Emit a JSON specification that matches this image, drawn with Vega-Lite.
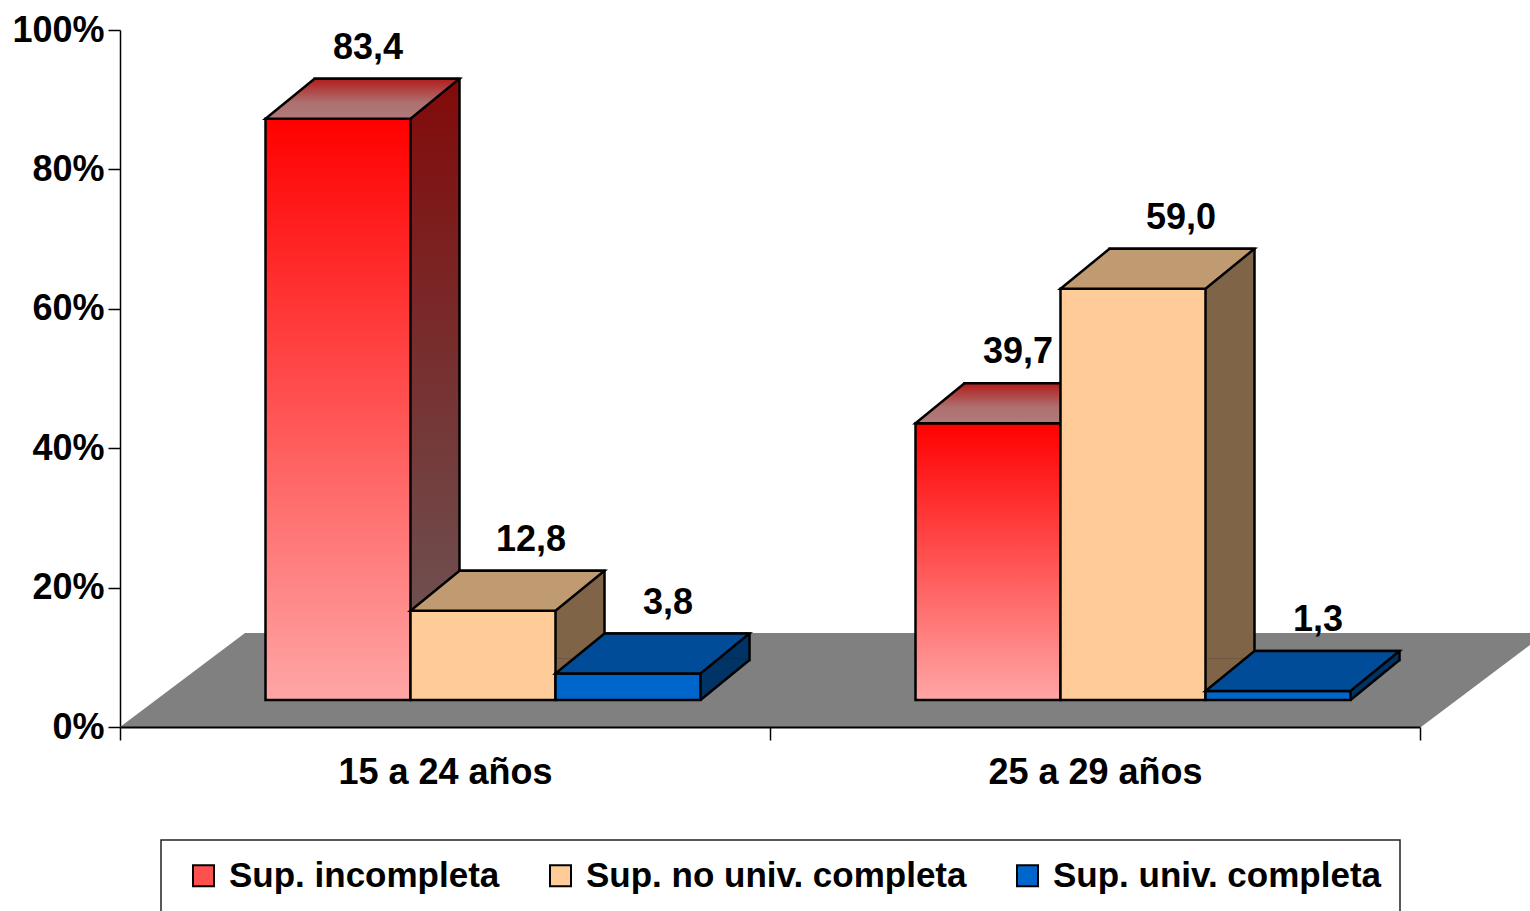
{
  "$schema": "https://vega.github.io/schema/vega-lite/v6.json",
  "width": 1300,
  "height": 697,
  "autosize": {"type": "none"},
  "padding": {"left": 120, "top": 30, "right": 110, "bottom": 184},
  "background": "white",
  "config": {
    "view": {"stroke": null},
    "font": "Liberation Sans",
    "locale": {"number": {"decimal": ",", "thousands": ".", "grouping": [3], "currency": ["", " €"]}}
  },
  "data": {
    "values": [
      {"g": "15 a 24 años", "s": "Sup. incompleta", "v": 83.4},
      {"g": "15 a 24 años", "s": "Sup. no univ. completa", "v": 12.8},
      {"g": "15 a 24 años", "s": "Sup. univ. completa", "v": 3.8},
      {"g": "25 a 29 años", "s": "Sup. incompleta", "v": 39.7},
      {"g": "25 a 29 años", "s": "Sup. no univ. completa", "v": 59.0},
      {"g": "25 a 29 años", "s": "Sup. univ. completa", "v": 1.3}
    ]
  },
  "encoding": {
    "x": {
      "field": "g", "type": "nominal", "sort": null,
      "scale": {"paddingInner": 0, "paddingOuter": 0},
      "axis": {"title": null, "tickBand": "extent", "tickSize": 13, "tickWidth": 1.5, "tickColor": "black", "domainColor": "black", "domainWidth": 2, "labelFontSize": 36, "labelFontWeight": "bold", "labelColor": "black", "labelAngle": 0, "labelBaseline": "alphabetic", "labelPadding": 43, "labelLimit": 500, "zindex": 1}
    },
    "y": {
      "field": "v", "type": "quantitative",
      "scale": {"domain": [0, 100]},
      "axis": {"title": null, "values": [0, 20, 40, 60, 80, 100], "labelExpr": "datum.value + '%'", "grid": false, "tickSize": 12, "tickWidth": 1.5, "tickColor": "black", "domainColor": "black", "domainWidth": 1.5, "labelFontSize": 36, "labelFontWeight": "bold", "labelColor": "black", "labelPadding": 4}
    }
  },
  "resolve": {"scale": {"xOffset": "independent"}},
  "layer": [
    {
      "transform": [{"filter": {"field": "s", "equal": "Sup. incompleta"}}],
      "mark": {"type": "point", "shape": "M-6.5,0L6.52,0L9.02,-1.88L-4,-1.88Z", "size": 10000, "filled": true, "fill": "#808080", "strokeWidth": 0, "opacity": 1},
      "encoding": {"y": {"datum": 0}}
    },
    {
      "transform": [{"filter": {"field": "s", "equal": "Sup. incompleta"}}],
      "resolve": {"scale": {"xOffset": "independent"}},
      "layer": [
        {"mark": {"type": "bar", "fill": {"gradient": "linear", "x1": 0, "y1": 0, "x2": 0, "y2": 1, "stops": [{"offset": 0, "color": "#820A0A"}, {"offset": 1, "color": "#6D5656"}]}, "stroke": "black", "strokeWidth": 2.5, "yOffset": -67, "y2Offset": -67},
         "encoding": {"xOffset": {"field": "s", "type": "nominal", "scale": {"type": "band", "domain": ["Sup. incompleta", "Sup. no univ. completa", "Sup. univ. completa"], "range": [194.5, 629.5], "paddingInner": 0, "paddingOuter": 0}}, "y2": {"datum": 0}}},
        {"mark": {"type": "point", "shape": "M1.41,-0.54L1.45,-0.54L2.43,-1.34L2.4,-1.37L1.41,-1.37Z", "size": 10000, "filled": true, "fill": "#6D5656", "strokeWidth": 0, "opacity": 1},
         "encoding": {"xOffset": {"field": "s", "type": "nominal", "scale": {"type": "band", "domain": ["Sup. incompleta", "Sup. no univ. completa", "Sup. univ. completa"], "range": [145.5, 580.5], "paddingInner": 0, "paddingOuter": 0}}, "y": {"datum": 0}}},
        {"mark": {"type": "point", "shape": "M1.45,-0.54L2.43,-1.34", "size": 10000, "filled": false, "stroke": "black", "strokeWidth": 2.5, "opacity": 1},
         "encoding": {"xOffset": {"field": "s", "type": "nominal", "scale": {"type": "band", "domain": ["Sup. incompleta", "Sup. no univ. completa", "Sup. univ. completa"], "range": [145.5, 580.5], "paddingInner": 0, "paddingOuter": 0}}, "y": {"datum": 0}}},
        {"mark": {"type": "bar", "fill": {"gradient": "linear", "x1": 0, "y1": 0, "x2": 0, "y2": 1, "stops": [{"offset": 0, "color": "#FF0000"}, {"offset": 1, "color": "#FFA6A6"}]}, "stroke": "black", "strokeWidth": 2.5, "yOffset": -27, "y2Offset": -27},
         "encoding": {"xOffset": {"field": "s", "type": "nominal", "scale": {"type": "band", "domain": ["Sup. incompleta", "Sup. no univ. completa", "Sup. univ. completa"], "range": [145.5, 580.5], "paddingInner": 0, "paddingOuter": 0}}, "y2": {"datum": 0}}},
        {"mark": {"type": "point", "shape": "M-1.45,-0.54L1.45,-0.54L2.43,-1.34L-0.47,-1.34Z", "size": 10000, "filled": true, "fill": {"gradient": "linear", "x1": 0, "y1": 0, "x2": 0, "y2": 1, "stops": [{"offset": 0, "color": "#B21C1C"}, {"offset": 0.6, "color": "#AE7070"}, {"offset": 1, "color": "#B07A7A"}]}, "stroke": "black", "strokeWidth": 2.5, "opacity": 1},
         "encoding": {"xOffset": {"field": "s", "type": "nominal", "scale": {"type": "band", "domain": ["Sup. incompleta", "Sup. no univ. completa", "Sup. univ. completa"], "range": [145.5, 580.5], "paddingInner": 0, "paddingOuter": 0}}}}
      ]
    },
    {
      "transform": [{"filter": {"field": "s", "equal": "Sup. no univ. completa"}}],
      "resolve": {"scale": {"xOffset": "independent"}},
      "layer": [
        {"mark": {"type": "bar", "fill": "#806448", "stroke": "black", "strokeWidth": 2.5, "yOffset": -67, "y2Offset": -67},
         "encoding": {"xOffset": {"field": "s", "type": "nominal", "scale": {"type": "band", "domain": ["Sup. incompleta", "Sup. no univ. completa", "Sup. univ. completa"], "range": [194.5, 629.5], "paddingInner": 0, "paddingOuter": 0}}, "y2": {"datum": 0}}},
        {"mark": {"type": "point", "shape": "M1.41,-0.54L1.45,-0.54L2.43,-1.34L2.4,-1.37L1.41,-1.37Z", "size": 10000, "filled": true, "fill": "#806448", "strokeWidth": 0, "opacity": 1},
         "encoding": {"xOffset": {"field": "s", "type": "nominal", "scale": {"type": "band", "domain": ["Sup. incompleta", "Sup. no univ. completa", "Sup. univ. completa"], "range": [145.5, 580.5], "paddingInner": 0, "paddingOuter": 0}}, "y": {"datum": 0}}},
        {"mark": {"type": "point", "shape": "M1.45,-0.54L2.43,-1.34", "size": 10000, "filled": false, "stroke": "black", "strokeWidth": 2.5, "opacity": 1},
         "encoding": {"xOffset": {"field": "s", "type": "nominal", "scale": {"type": "band", "domain": ["Sup. incompleta", "Sup. no univ. completa", "Sup. univ. completa"], "range": [145.5, 580.5], "paddingInner": 0, "paddingOuter": 0}}, "y": {"datum": 0}}},
        {"mark": {"type": "bar", "stroke": "black", "strokeWidth": 2.5, "yOffset": -27, "y2Offset": -27},
         "encoding": {
           "xOffset": {"field": "s", "type": "nominal", "scale": {"type": "band", "domain": ["Sup. incompleta", "Sup. no univ. completa", "Sup. univ. completa"], "range": [145.5, 580.5], "paddingInner": 0, "paddingOuter": 0}},
           "y2": {"datum": 0},
           "fill": {
             "field": "s", "type": "nominal",
             "scale": {"domain": ["Sup. incompleta", "Sup. no univ. completa", "Sup. univ. completa"], "range": ["#FF5050", "#FFCC99", "#0066CC"]},
             "legend": {
               "title": null, "orient": "none", "legendX": 41, "legendY": 810, "direction": "horizontal", "columns": 3, "columnPadding": 36,
               "symbolType": "square", "symbolSize": 441, "symbolStrokeColor": "black", "symbolStrokeWidth": 2, "symbolOffset": 7, "symbolOpacity": 1,
               "labelFontSize": 35, "labelFontWeight": "bold", "labelColor": "black", "labelLimit": 600, "labelOffset": 8,
               "padding": 18, "strokeColor": "#222222", "fillColor": "white",
               "encode": {
                 "legend": {"update": {"strokeWidth": {"value": 1.5}}},
                 "symbols": {"update": {"stroke": {"value": "black"}, "strokeWidth": {"value": 2}}}
               }
             }
           }
         }},
        {"mark": {"type": "point", "shape": "M-1.45,-0.54L1.45,-0.54L2.43,-1.34L-0.47,-1.34Z", "size": 10000, "filled": true, "fill": "#C09A70", "stroke": "black", "strokeWidth": 2.5, "opacity": 1},
         "encoding": {"xOffset": {"field": "s", "type": "nominal", "scale": {"type": "band", "domain": ["Sup. incompleta", "Sup. no univ. completa", "Sup. univ. completa"], "range": [145.5, 580.5], "paddingInner": 0, "paddingOuter": 0}}}}
      ]
    },
    {
      "transform": [{"filter": {"field": "s", "equal": "Sup. univ. completa"}}],
      "resolve": {"scale": {"xOffset": "independent"}},
      "layer": [
        {"mark": {"type": "bar", "fill": "#003366", "stroke": "black", "strokeWidth": 2.5, "yOffset": -67, "y2Offset": -67},
         "encoding": {"xOffset": {"field": "s", "type": "nominal", "scale": {"type": "band", "domain": ["Sup. incompleta", "Sup. no univ. completa", "Sup. univ. completa"], "range": [194.5, 629.5], "paddingInner": 0, "paddingOuter": 0}}, "y2": {"datum": 0}}},
        {"mark": {"type": "point", "shape": "M1.41,-0.54L1.45,-0.54L2.43,-1.34L2.4,-1.37L1.41,-1.37Z", "size": 10000, "filled": true, "fill": "#003366", "strokeWidth": 0, "opacity": 1},
         "encoding": {"xOffset": {"field": "s", "type": "nominal", "scale": {"type": "band", "domain": ["Sup. incompleta", "Sup. no univ. completa", "Sup. univ. completa"], "range": [145.5, 580.5], "paddingInner": 0, "paddingOuter": 0}}, "y": {"datum": 0}}},
        {"mark": {"type": "point", "shape": "M1.45,-0.54L2.43,-1.34", "size": 10000, "filled": false, "stroke": "black", "strokeWidth": 2.5, "opacity": 1},
         "encoding": {"xOffset": {"field": "s", "type": "nominal", "scale": {"type": "band", "domain": ["Sup. incompleta", "Sup. no univ. completa", "Sup. univ. completa"], "range": [145.5, 580.5], "paddingInner": 0, "paddingOuter": 0}}, "y": {"datum": 0}}},
        {"mark": {"type": "bar", "fill": "#0066CC", "stroke": "black", "strokeWidth": 2.5, "yOffset": -27, "y2Offset": -27},
         "encoding": {"xOffset": {"field": "s", "type": "nominal", "scale": {"type": "band", "domain": ["Sup. incompleta", "Sup. no univ. completa", "Sup. univ. completa"], "range": [145.5, 580.5], "paddingInner": 0, "paddingOuter": 0}}, "y2": {"datum": 0}}},
        {"mark": {"type": "point", "shape": "M-1.45,-0.54L1.45,-0.54L2.43,-1.34L-0.47,-1.34Z", "size": 10000, "filled": true, "fill": "#004C99", "stroke": "black", "strokeWidth": 2.5, "opacity": 1},
         "encoding": {"xOffset": {"field": "s", "type": "nominal", "scale": {"type": "band", "domain": ["Sup. incompleta", "Sup. no univ. completa", "Sup. univ. completa"], "range": [145.5, 580.5], "paddingInner": 0, "paddingOuter": 0}}}}
      ]
    },
    {
      "transform": [{"filter": {"field": "s", "equal": "Sup. incompleta"}}],
      "mark": {"type": "text", "fontSize": 36, "fontWeight": "bold", "baseline": "alphabetic", "align": "center", "dy": -87, "color": "black"},
      "encoding": {
        "xOffset": {"field": "s", "type": "nominal", "scale": {"type": "band", "domain": ["Sup. incompleta", "Sup. no univ. completa", "Sup. univ. completa"], "range": [175.5, 610.5], "paddingInner": 0, "paddingOuter": 0}},
        "text": {"field": "v", "type": "quantitative", "format": ".1f"}
      }
    },
    {
      "transform": [{"filter": {"field": "s", "equal": "Sup. no univ. completa"}}],
      "mark": {"type": "text", "fontSize": 36, "fontWeight": "bold", "baseline": "alphabetic", "align": "center", "dy": -87, "color": "black"},
      "encoding": {
        "xOffset": {"field": "s", "type": "nominal", "scale": {"type": "band", "domain": ["Sup. incompleta", "Sup. no univ. completa", "Sup. univ. completa"], "range": [193.5, 628.5], "paddingInner": 0, "paddingOuter": 0}},
        "text": {"field": "v", "type": "quantitative", "format": ".1f"}
      }
    },
    {
      "transform": [{"filter": {"field": "s", "equal": "Sup. univ. completa"}}],
      "mark": {"type": "text", "fontSize": 36, "fontWeight": "bold", "baseline": "alphabetic", "align": "center", "dy": -87, "color": "black"},
      "encoding": {
        "xOffset": {"field": "s", "type": "nominal", "scale": {"type": "band", "domain": ["Sup. incompleta", "Sup. no univ. completa", "Sup. univ. completa"], "range": [185.5, 620.5], "paddingInner": 0, "paddingOuter": 0}},
        "text": {"field": "v", "type": "quantitative", "format": ".1f"}
      }
    }
  ]
}
